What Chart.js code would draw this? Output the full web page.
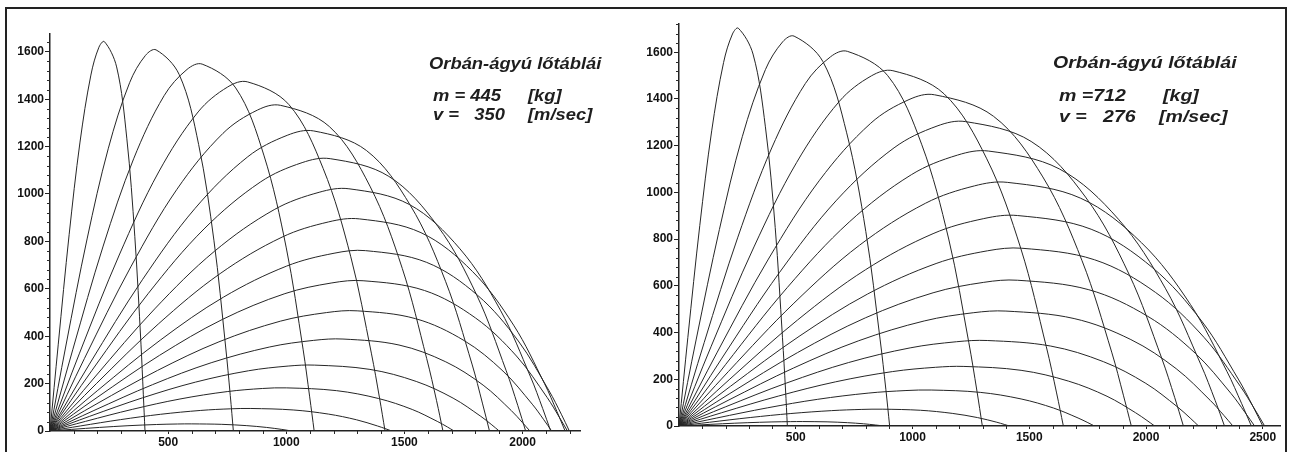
<!DOCTYPE html>
<html><head><meta charset="utf-8">
<script src="https://cdn.jsdelivr.net/npm/chart.js@4.4.0/dist/chart.umd.min.js"></script>
<style>
html,body{margin:0;padding:0;background:#fff;}
body{width:1295px;height:452px;position:relative;overflow:hidden;}
canvas{position:absolute;top:0;}
#frame{position:absolute;left:5px;top:7px;width:1278px;height:470px;border:2px solid #222;pointer-events:none;}
.t{position:absolute;font-family:'Liberation Sans',Arial,sans-serif;font-style:italic;font-weight:bold;font-size:17px;line-height:1;white-space:pre;color:#1e1e1e;transform-origin:0 0;}
.l{transform:scaleX(1.08);}
.r{transform:scaleX(1.15);}
</style></head><body>
<canvas id="cL" width="640" height="452" style="left:0"></canvas>
<canvas id="cR" width="655" height="452" style="left:640px"></canvas>
<div id="frame"></div>

<div class="t l" style="left:429px;top:55px">Orbán-ágyú lőtáblái</div>
<div class="t l" style="left:433px;top:87.3px">m = 445</div>
<div class="t l" style="left:528px;top:87.3px">[kg]</div>
<div class="t l" style="left:433px;top:105.6px">v =   350</div>
<div class="t l" style="left:528px;top:105.6px">[m/sec]</div>

<div class="t r" style="left:1053px;top:54px">Orbán-ágyú lőtáblái</div>
<div class="t r" style="left:1059px;top:87px">m =712</div>
<div class="t r" style="left:1163px;top:87px">[kg]</div>
<div class="t r" style="left:1059px;top:108px">v =   276</div>
<div class="t r" style="left:1159px;top:108px">[m/sec]</div>

<script>
// ---- Left chart (m = 445 kg, v = 350 m/s): trajectories for elevation 5°..85°
const L05 = [[0,0],[90,6.7],[210,15.1],[330,22.3],[450,27.4],[540,29.6],[600,30],[727,28.1],[833,22.6],[917,15],[981,6.7],[1006,2.8],[1023,0]];
const L10 = [[0,0],[128,21.2],[298,47.9],[468,70.5],[638,86.8],[765,93.6],[850,95],[1029,88.8],[1178,71.4],[1297,47.4],[1386,21.2],[1422,8.8],[1446,0]];
const L15 = [[0,0],[150,40.6],[350,91.7],[550,135],[750,166.3],[900,179.4],[1000,182],[1213,170.2],[1391,136.9],[1533,90.8],[1639,40.6],[1682,16.9],[1710,0]];
const L20 = [[0,0],[168,62],[392,140.1],[616,206.3],[840,254.1],[1008,274],[1120,278],[1354,259.9],[1550,209.1],[1706,138.7],[1823,62],[1870,25.9],[1901,0]];
const L25 = [[0,0],[186,86.5],[434,195.6],[682,287.9],[930,354.6],[1116,382.4],[1240,388],[1477,362.8],[1675,291.8],[1833,193.6],[1952,86.5],[1999,36.1],[2031,0]];
const L30 = [[0,0],[195,113.1],[455,255.5],[715,376.2],[975,463.4],[1170,499.6],[1300,507],[1547,474],[1753,381.3],[1917,253],[2041,113.1],[2090,47.2],[2123,0]];
const L35 = [[0,0],[199,141.4],[464,319.5],[729,470.4],[994,579.5],[1193,624.8],[1325,634],[1585,592.8],[1801,476.8],[1974,316.4],[2104,141.4],[2155,59],[2190,0]];
const L40 = [[0,0],[200,169.7],[467,383.5],[734,564.7],[1001,695.6],[1202,750],[1335,761],[1594,711.5],[1810,572.3],[1982,379.7],[2112,169.7],[2164,70.8],[2198,0]];
const L45 = [[0,0],[196,199.6],[458,451.1],[720,664.1],[982,818],[1178,882],[1309,895],[1570,836.8],[1788,673],[1962,446.6],[2093,199.6],[2145,83.2],[2180,0]];
const L50 = [[0,0],[190,227.9],[443,515.1],[696,758.3],[949,934.1],[1139,1007.2],[1265,1022],[1521,955.6],[1735,768.5],[1906,510],[2034,227.9],[2085,95],[2119,0]];
const L55 = [[0,0],[178,256.2],[415,579.1],[652,852.6],[890,1050.2],[1067,1132.3],[1186,1149],[1434,1074.3],[1641,864],[1806,573.4],[1930,256.2],[1980,106.9],[2013,0]];
const L60 = [[0,0],[167,282.3],[391,638.1],[614,939.4],[837,1157.1],[1004,1247.6],[1116,1266],[1339,1183.7],[1525,952],[1674,631.7],[1786,282.3],[1830,117.7],[1860,0]];
const L65 = [[0,0],[146,306.4],[342,692.5],[537,1019.5],[732,1255.8],[878,1354.1],[976,1374],[1182,1284.7],[1354,1033.2],[1491,685.6],[1594,306.4],[1636,127.8],[1663,0]];
const L70 = [[0,0],[125,328.5],[293,742.4],[460,1093],[627,1346.3],[752,1451.6],[836,1473],[1011,1377.3],[1156,1107.7],[1273,735],[1360,328.5],[1395,137],[1418,0]];
const L75 = [[0,0],[97,345.2],[225,780.2],[354,1148.6],[483,1414.9],[580,1525.6],[644,1548],[786,1447.4],[905,1164.1],[1000,772.5],[1071,345.2],[1099,144],[1118,0]];
const L80 = [[0,0],[67,358.6],[157,810.4],[247,1193.1],[337,1469.7],[404,1584.7],[449,1608],[547,1503.5],[629,1209.2],[694,802.4],[743,358.6],[763,149.5],[776,0]];
const L85 = [[0,0],[35,366.4],[81,828.1],[127,1219.1],[173,1501.7],[207,1619.2],[230,1643],[282,1536.2],[325,1235.5],[359,819.9],[385,366.4],[395,152.8],[402,0]];

// ---- Right chart (m = 712 kg, v = 276 m/s)
const R05 = [[0,0],[80,4.2],[186,9.6],[292,14.1],[398,17.4],[477,18.7],[530,19],[634,17.8],[721,14.3],[790,9.5],[842,4.2],[863,1.8],[877,0]];
const R10 = [[0,0],[131,16.1],[305,36.3],[479,53.4],[653,65.8],[783,71],[870,72],[1034,67.3],[1170,54.1],[1279,35.9],[1361,16.1],[1393,6.7],[1415,0]];
const R15 = [[0,0],[162,34.3],[378,77.6],[594,114.3],[810,140.8],[972,151.8],[1080,154],[1290,144],[1465,115.8],[1604,76.8],[1709,34.3],[1751,14.3],[1779,0]];
const R20 = [[0,0],[183,56.9],[427,128.5],[671,189.2],[915,233.1],[1098,251.3],[1220,255],[1465,238.4],[1669,191.8],[1833,127.2],[1955,56.9],[2004,23.7],[2037,0]];
const R25 = [[0,0],[198,81.6],[462,184.5],[726,271.6],[990,334.5],[1188,360.7],[1320,366],[1592,342.2],[1818,275.2],[1999,182.6],[2135,81.6],[2189,34],[2225,0]];
const R30 = [[0,0],[210,109.7],[490,248],[770,365.1],[1050,449.7],[1260,484.9],[1400,492],[1692,460],[1935,370],[2129,245.5],[2275,109.7],[2333,45.8],[2372,0]];
const R35 = [[0,0],[218,139.2],[508,314.5],[798,463],[1088,570.3],[1305,615],[1450,624],[1755,583.4],[2008,469.2],[2211,311.4],[2364,139.2],[2424,58],[2465,0]];
const R40 = [[0,0],[220,169.7],[514,383.5],[807,564.7],[1101,695.6],[1321,750],[1468,761],[1780,711.5],[2040,572.3],[2248,379.7],[2404,169.7],[2466,70.8],[2508,0]];
const R45 = [[0,0],[218,200.9],[508,454.1],[798,668.5],[1088,823.5],[1305,887.9],[1450,901],[1765,842.4],[2028,677.6],[2238,449.6],[2395,200.9],[2458,83.8],[2500,0]];
const R50 = [[0,0],[211,232.6],[492,525.7],[773,773.9],[1055,953.3],[1265,1027.9],[1406,1043],[1720,975.2],[1981,784.3],[2190,520.5],[2347,232.6],[2409,97],[2451,0]];
const R55 = [[0,0],[199,262.5],[464,593.2],[729,873.3],[995,1075.8],[1193,1159.9],[1326,1177],[1629,1100.5],[1882,885.1],[2084,587.3],[2235,262.5],[2296,109.5],[2336,0]];
const R60 = [[0,0],[184,290.6],[430,656.7],[675,966.8],[921,1190.9],[1105,1284.1],[1228,1303],[1508,1218.3],[1741,979.9],[1927,650.2],[2067,290.6],[2123,121.2],[2160,0]];
const R65 = [[0,0],[164,316.2],[383,714.7],[602,1052.2],[821,1296.1],[985,1397.4],[1094,1418],[1347,1325.8],[1558,1066.3],[1726,707.6],[1853,316.2],[1903,131.9],[1937,0]];
const R70 = [[0,0],[137,339.2],[321,766.6],[504,1128.6],[687,1390.2],[824,1499],[916,1521],[1135,1422.1],[1318,1143.8],[1464,759],[1573,339.2],[1617,141.5],[1646,0]];
const R75 = [[0,0],[108,357.7],[252,808.4],[397,1190.2],[541,1466.1],[649,1580.7],[721,1604],[894,1499.7],[1039,1206.2],[1155,800.4],[1241,357.7],[1276,149.2],[1299,0]];
const R80 = [[0,0],[74,372.2],[173,841.2],[271,1238.4],[370,1525.5],[444,1644.8],[493,1669],[616,1560.5],[718,1255.1],[800,832.8],[861,372.2],[886,155.2],[902,0]];
const R85 = [[0,0],[38,379.8],[89,858.3],[140,1263.6],[191,1556.5],[229,1678.3],[254,1703],[317,1592.3],[370,1280.7],[412,849.8],[443,379.8],[456,158.4],[464,0]];

const leftSeries  = [L05,L10,L15,L20,L25,L30,L35,L40,L45,L50,L55,L60,L65,L70,L75,L80,L85];
const rightSeries = [R05,R10,R15,R20,R25,R30,R35,R40,R45,R50,R55,R60,R65,R70,R75,R80,R85];

// ---- Tick labels
const yTicks      = [0,200,400,600,800,1000,1200,1400,1600];
const xTicksLeft  = [500,1000,1500,2000];
const xTicksRight = [500,1000,1500,2000,2500];
const xMinorStep = 100, yMinorStep = 40, yMajorStep = 200, xMajorStep = 500;

const minorTicks = {
  id:'minorTicks',
  afterDraw(chart){
    const {ctx, chartArea:a, scales:{x,y}} = chart;
    ctx.save();
    ctx.strokeStyle = '#2a2a2a'; ctx.lineWidth = 1;
    ctx.beginPath();
    for (let v = yMinorStep; v <= y.max; v += yMinorStep){
      if (v % yMajorStep === 0) continue;
      const py = Math.round(y.getPixelForValue(v)) + 0.5;
      ctx.moveTo(a.left - 3, py); ctx.lineTo(a.left, py);
    }
    for (let v = xMinorStep; v <= x.max; v += xMinorStep){
      if (v % xMajorStep === 0) continue;
      const px = Math.round(x.getPixelForValue(v)) + 0.5;
      ctx.moveTo(px, a.bottom); ctx.lineTo(px, a.bottom + 3);
    }
    ctx.stroke();
    ctx.restore();
  }
};

const tickFont = {family:"'Liberation Sans', Arial, sans-serif", size:12, weight:'bold'};

function makeChart(id, series, xMax, yMax, xTicks, pad, yW, xH){
  return new Chart(document.getElementById(id), {
    type:'scatter',
    data:{datasets: series.map(s => ({
      data: s.map(p => ({x:p[0], y:p[1]})),
      showLine:true, pointRadius:0, borderWidth:1, borderColor:'#262626',
      tension:0.35, fill:false
    }))},
    options:{
      responsive:false, animation:false, devicePixelRatio:1, events:[],
      layout:{padding:pad},
      plugins:{legend:{display:false}, tooltip:{enabled:false}},
      scales:{
        x:{type:'linear', min:0, max:xMax,
           afterFit(s){ s.height = xH; },
           afterBuildTicks(s){ s.ticks = xTicks.map(v => ({value:v})); },
           grid:{drawOnChartArea:false, drawTicks:true, tickLength:3, color:'#222'},
           border:{display:true, color:'#222', width:1.5},
           ticks:{padding:1, color:'#111', font:tickFont, maxRotation:0, autoSkip:false, callback:v => String(v)}},
        y:{type:'linear', min:0, max:yMax,
           afterFit(s){ s.width = yW; },
           afterBuildTicks(s){ s.ticks = yTicks.map(v => ({value:v})); },
           grid:{drawOnChartArea:false, drawTicks:true, tickLength:5, color:'#222'},
           border:{display:true, color:'#222', width:1.5},
           ticks:{padding:1, color:'#111', font:tickFont, autoSkip:false, callback:v => String(v)}}
      }
    },
    plugins:[minorTicks]
  });
}

makeChart('cL', leftSeries, 2246, 1678, xTicksLeft, {left:0, right:59.3, top:33.3, bottom:0}, 50, 21);
makeChart('cR', rightSeries, 2575, 1724, xTicksRight, {left:0, right:14.7, top:23.3, bottom:0}, 39, 26);
</script>
</body></html>
